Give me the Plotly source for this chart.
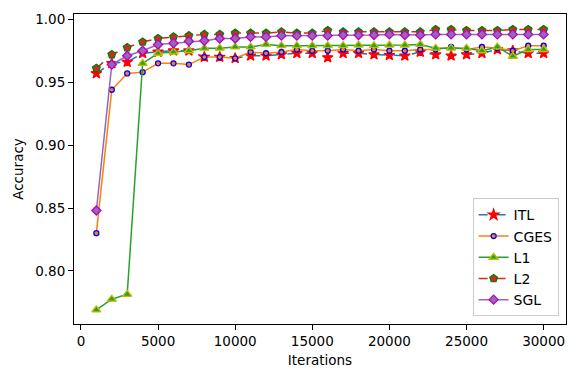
import plotly.graph_objects as go

iterations = [1000 * i for i in range(1, 31)]

itl = [0.957, 0.965, 0.966, 0.973, 0.974, 0.975, 0.975, 0.970, 0.970, 0.969,
       0.971, 0.971, 0.972, 0.973, 0.973, 0.9696, 0.973, 0.973, 0.972, 0.9714,
       0.971, 0.974, 0.972, 0.971, 0.972, 0.973, 0.976, 0.975, 0.973, 0.973]
cges = [0.830, 0.944, 0.957, 0.958, 0.965, 0.965, 0.964, 0.970, 0.970, 0.969,
        0.974, 0.973, 0.974, 0.976, 0.975, 0.975, 0.976, 0.975, 0.976, 0.975,
        0.975, 0.976, 0.976, 0.978, 0.976, 0.978, 0.977, 0.975, 0.979, 0.979]
l1 = [0.769, 0.7775, 0.7814, 0.965, 0.973, 0.974, 0.975, 0.977, 0.977, 0.978,
      0.978, 0.980, 0.979, 0.979, 0.979, 0.979, 0.979, 0.9795, 0.979, 0.9795,
      0.9795, 0.980, 0.977, 0.977, 0.977, 0.975, 0.978, 0.9706, 0.976, 0.976]
l2 = [0.961, 0.972, 0.9775, 0.982, 0.9847, 0.986, 0.987, 0.988, 0.988, 0.989,
      0.989, 0.989, 0.990, 0.989, 0.989, 0.991, 0.990, 0.990, 0.990, 0.990,
      0.990, 0.990, 0.9918, 0.9918, 0.991, 0.991, 0.991, 0.9918, 0.9918, 0.9918]
sgl = [0.848, 0.964, 0.971, 0.975, 0.980, 0.981, 0.9825, 0.983, 0.9847, 0.9847,
       0.986, 0.986, 0.987, 0.987, 0.987, 0.987, 0.9875, 0.9875, 0.9875, 0.988,
       0.9875, 0.9875, 0.988, 0.988, 0.988, 0.988, 0.988, 0.988, 0.988, 0.988]

x_ticks = [0, 5000, 10000, 15000, 20000, 25000, 30000]
y_ticks = [0.80, 0.85, 0.90, 0.95, 1.00]

# name, values, line colour, dash, symbol, size, fill, edge
series = [
    ("ITL", itl, "#1f77b4", "dash", "star", 8, "red", "red"),
    ("CGES", cges, "#ff7f0e", "solid", "circle", 5, "#ff7f0e", "blue"),
    ("L1", l1, "#2ca02c", "solid", "triangle-up", 8, "#2ca02c", "#bfbf00"),
    ("L2", l2, "#d62728", "dash", "pentagon", 8, "#d62728", "green"),
    ("SGL", sgl, "#9467bd", "solid", "diamond", 7, "#9467bd", "#bf00bf"),
]

fig = go.Figure()
for name, vals, col, dash, sym, size, fill, edge in series:
    fig.add_trace(go.Scatter(
        x=iterations, y=vals, name=name, mode="lines+markers",
        line=dict(color=col, width=1.5, dash=dash),
        marker=dict(symbol=sym, size=size, color=fill,
                    line=dict(color=edge, width=1.3)),
    ))

font = "DejaVu Sans, Arial, sans-serif"
axis = dict(showline=True, linecolor="black", linewidth=1, mirror=True,
            ticks="outside", ticklen=5, tickcolor="black", showgrid=False,
            zeroline=False, automargin=False, tickfont=dict(size=13.5, color="black"))

# the page body adds an 8px offset, so the figure is 8px smaller
fig.update_layout(
    width=573, height=373,
    margin=dict(l=66, r=15, t=6, b=57),
    plot_bgcolor="white", paper_bgcolor="white",
    font=dict(family=font, size=13.5, color="black"),
    showlegend=True,
    legend=dict(x=0.985, y=0.025, xanchor="right", yanchor="bottom",
                bgcolor="rgba(255,255,255,0.8)", bordercolor="#cccccc",
                borderwidth=1, font=dict(size=14), itemwidth=30,
                tracegroupgap=0),
)
fig.update_xaxes(axis, range=[-450, 31450], tickvals=x_ticks,
                 ticktext=[str(t) for t in x_ticks],
                 title=dict(text="Iterations", font=dict(size=13.5), standoff=7))
fig.update_yaxes(axis, range=[0.7578, 1.0042], tickvals=y_ticks,
                 tickformat=".2f", title=dict(text="Accuracy", font=dict(size=13.5), standoff=8))

fig.write_html("out.html")
